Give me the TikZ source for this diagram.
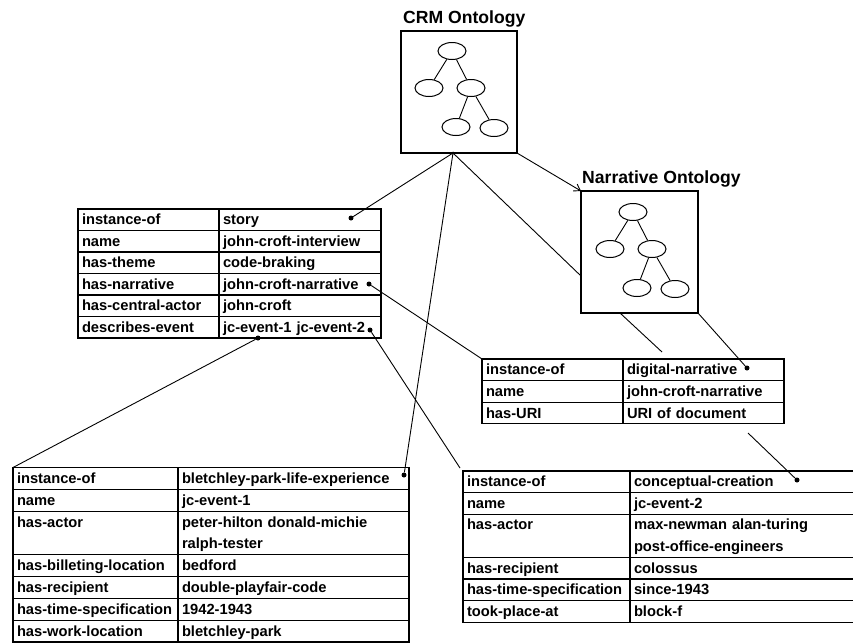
\documentclass[tikz,border=0pt]{standalone}
\usepackage{fontspec}
\setmainfont{Liberation Sans}
\usetikzlibrary{arrows.meta,shapes.geometric,calc}
\newcommand\tabfont{\fontsize{14.7pt}{21.7pt}\selectfont\bfseries}
\newcommand\cs{\rule[-3.5pt]{0pt}{17pt}}
\newcommand\kvrow[7]{%
  \node[cell, text width=#3, minimum height=#5] (#1k) at #2 {\cs #6};
  \node[cell, text width=#4, minimum height=#5] (#1v) at (#1k.north east) {\cs #7};}
\begin{document}
\begin{tikzpicture}[x=1pt,y=-1pt,
  cell/.style={draw, line width=1.2pt, rectangle, anchor=north west, inner xsep=4pt,
    inner ysep=0pt, outer sep=0pt, align=left, font=\tabfont},
  ontobox/.style={draw, line width=1.2pt, minimum width=116pt, minimum height=122pt,
    inner sep=0pt, outer sep=0pt},
  onode/.style={draw, ellipse, line width=1pt, minimum width=28pt, minimum height=17pt, inner sep=0pt},
  conn/.style={line width=0.9pt},
  dotn/.style={circle, fill, inner sep=0pt, minimum size=5pt},
  hubdot/.style={circle, fill, inner sep=0pt, minimum size=3pt},
  titlebox/.style={font=\fontsize{17.6pt}{20pt}\selectfont\bfseries, inner sep=0pt, anchor=base west},
  ontotree/.pic={
    \node[onode] (-a) at (0,0) {};
    \node[onode] (-b) at (-23,37) {};
    \node[onode] (-c) at (19,37) {};
    \node[onode] (-d) at (4,76) {};
    \node[onode] (-e) at (42,77) {};
    \draw[conn] (-a) -- (-b) (-a) -- (-c) (-c) -- (-d) (-c) -- (-e);
  }]
\useasboundingbox (0,0) rectangle (853,643);

% ontologies
\node[titlebox] (crmtitle) at (403,23) {CRM Ontology};
\node[ontobox] (crm) at (459,92) {};
\pic (crmt) at (452,51) {ontotree};

\node[titlebox] (narrtitle) at (582,183) {Narrative Ontology};
\node[ontobox, minimum width=117pt] (narr) at (639.5,252) {};
\pic (narrt) at (633,212) {ontotree};

% table 1
\kvrow{t1a}{(78,209)}{133pt}{154pt}{21.5pt}{instance-of}{story}
\kvrow{t1b}{(t1ak.south west)}{133pt}{154pt}{21.5pt}{name}{john-croft-interview}
\kvrow{t1c}{(t1bk.south west)}{133pt}{154pt}{21.5pt}{has-theme}{code-braking}
\kvrow{t1d}{(t1ck.south west)}{133pt}{154pt}{21.5pt}{has-narrative}{john-croft-narrative}
\kvrow{t1e}{(t1dk.south west)}{133pt}{154pt}{21.5pt}{has-central-actor}{john-croft}
\kvrow{t1f}{(t1ek.south west)}{133pt}{154pt}{21.5pt}{describes-event}{jc-event-1 jc-event-2}

% table 2
\kvrow{t2a}{(482,359)}{133pt}{153pt}{21.6pt}{instance-of}{digital-narrative}
\kvrow{t2b}{(t2ak.south west)}{133pt}{153pt}{21.6pt}{name}{john-croft-narrative}
\kvrow{t2c}{(t2bk.south west)}{133pt}{153pt}{21.6pt}{has-URI}{URI of document}

% table 3
\kvrow{t3a}{(13,467.5)}{157pt}{223pt}{21.8pt}{instance-of}{bletchley-park-life-experience}
\kvrow{t3b}{(t3ak.south west)}{157pt}{223pt}{21.8pt}{name}{jc-event-1}
\kvrow{t3c}{(t3bk.south west)}{157pt}{223pt}{43.6pt}{has-actor\\\cs}{peter-hilton donald-michie\\\cs ralph-tester}
\kvrow{t3d}{(t3ck.south west)}{157pt}{223pt}{21.8pt}{has-billeting-location}{bedford}
\kvrow{t3e}{(t3dk.south west)}{157pt}{223pt}{21.8pt}{has-recipient}{double-playfair-code}
\kvrow{t3f}{(t3ek.south west)}{157pt}{223pt}{21.8pt}{has-time-specification}{1942-1943}
\kvrow{t3g}{(t3fk.south west)}{157pt}{223pt}{21.8pt}{has-work-location}{bletchley-park}

% table 4
\kvrow{t4a}{(463,471)}{159pt}{222pt}{21.6pt}{instance-of}{conceptual-creation}
\kvrow{t4b}{(t4ak.south west)}{159pt}{222pt}{21.6pt}{name}{jc-event-2}
\kvrow{t4c}{(t4bk.south west)}{159pt}{222pt}{43.2pt}{has-actor\\\cs}{max-newman alan-turing\\\cs post-office-engineers}
\kvrow{t4d}{(t4ck.south west)}{159pt}{222pt}{21.6pt}{has-recipient}{colossus}
\kvrow{t4e}{(t4dk.south west)}{159pt}{222pt}{21.6pt}{has-time-specification}{since-1943}
\kvrow{t4f}{(t4ek.south west)}{159pt}{222pt}{21.6pt}{took-place-at}{block-f}

% dots
\node[hubdot] (hub) at (453,153) {};
\node[dotn] (dstory) at (351,218) {};
\node[dotn] (djcn) at (369,284) {};
\node[dotn] (djce2) at (370,330) {};
\node[dotn] (djce1) at (258,338) {};
\node[dotn] (ddn) at (747,368) {};
\node[dotn] (dbp) at (404,475) {};
\node[dotn] (dcc) at (797,480) {};

% free ends
\coordinate (nleft) at (581,276);
\coordinate (nfoot) at (620,313);
\coordinate (nfree) at (662,352);
\coordinate (t4corner) at (460,468);
\coordinate (ccfree) at (748,433);

% connectors
\draw[conn] (hub.center) -- (dstory);
\draw[conn] (hub.center) -- (dbp);
\draw[conn] (hub.center) -- (nleft);
\draw[conn, -{Straight Barb[length=6pt,width=8pt]}] (crm.south east) -- (narr.north west);
\draw[conn] (nfoot) -- (nfree);
\draw[conn] (narr.south east) -- (ddn);
\draw[conn] (djcn) -- (t2ak.north west);
\draw[conn] (djce2) -- (t4corner);
\draw[conn] (djce1) -- (t3ak.north west);
\draw[conn] (ccfree) -- (dcc);
\end{tikzpicture}
\end{document}
